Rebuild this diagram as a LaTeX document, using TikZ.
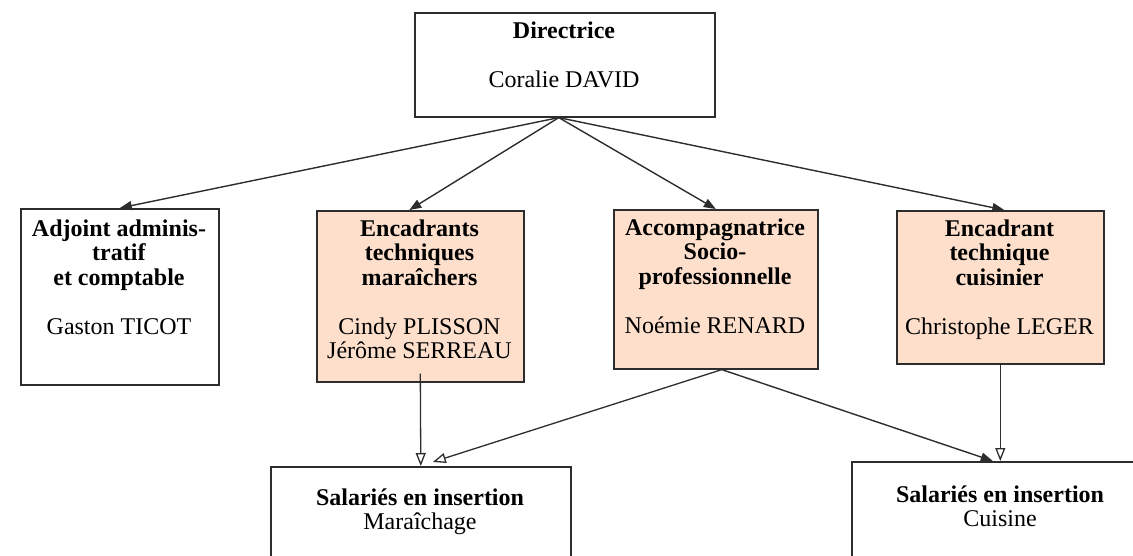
\documentclass[tikz,border=0pt]{standalone}
\usepackage{fontspec}
\setmainfont{Liberation Serif}
\usetikzlibrary{arrows.meta}
\definecolor{peach}{RGB}{253,223,203}
\definecolor{edgecol}{RGB}{45,45,45}
\begin{document}
\begin{tikzpicture}[x=1pt,y=-1pt,
  box/.style={draw=edgecol,line width=1.6pt,inner sep=0pt,anchor=north west},
  fbox/.style={box,fill=peach},
  lbl/.style={anchor=north,inner sep=0pt,yshift=17.15pt,align=center,font=\fontsize{24}{24.5}\selectfont},
  arr/.style={draw=edgecol,line width=1.4pt,-{Triangle[length=12pt,width=9pt]}},
  oarr/.style={draw=edgecol,line width=1.3pt,-{Triangle[open,length=13pt,width=10pt]}}]
\useasboundingbox (0,0) rectangle (1133,555);
\clip (0,0) rectangle (1133,555);
% boxes
\node[box,minimum width=300pt,minimum height=104pt] (dir) at (414,12) {};
\node[box,minimum width=198pt,minimum height=176pt] (adj) at (20,208) {};
\node[fbox,minimum width=207pt,minimum height=171pt] (enc) at (316,210) {};
\node[fbox,minimum width=204pt,minimum height=159pt] (acc) at (613,209) {};
\node[fbox,minimum width=207pt,minimum height=153pt] (cui) at (896,210) {};
\node[box,minimum width=300pt,minimum height=140pt] (mar) at (270,466) {};
\node[box,minimum width=300pt,minimum height=140pt] (cuis) at (851,461) {};
% labels (y = first baseline)
\node[lbl] (tdir) at (564,38) {\strut\textbf{Directrice}\\[25pt]Coralie DAVID};
\node[lbl] (tadj) at (119,236) {\strut\textbf{Adjoint adminis-}\\\textbf{tratif}\\\textbf{et comptable}\\[24.5pt]Gaston TICOT};
\node[lbl] (tenc) at (419.5,236) {\strut\textbf{Encadrants}\\\textbf{techniques}\\\textbf{maraîchers}\\[24.5pt]Cindy PLISSON\\Jérôme SERREAU};
\node[lbl] (tacc) at (715,235) {\strut\textbf{Accompagnatrice}\\\textbf{Socio-}\\\textbf{professionnelle}\\[24.5pt]Noémie RENARD};
\node[lbl] (tcui) at (999.5,236) {\strut\textbf{Encadrant}\\\textbf{technique}\\\textbf{cuisinier}\\[24.5pt]Christophe LEGER};
\node[lbl] (tmar) at (420,505) {\strut\textbf{Salariés en insertion}\\Maraîchage};
\node[lbl] (tcuis) at (1000,502) {\strut\textbf{Salariés en insertion}\\Cuisine};
% connectors
\draw[arr] ([xshift=-6pt]dir.south) -- (adj.north);
\draw[arr] ([xshift=-6pt]dir.south) -- ([xshift=-11pt]enc.north);
\draw[arr] ([xshift=-6pt]dir.south) -- (acc.north);
\draw[arr] ([xshift=-6pt]dir.south) -- ([xshift=4pt]cui.north);
\draw[oarr] ([yshift=9pt]enc.south) -- (mar.north);
\draw[oarr] ([xshift=6pt]acc.south) -- ([xshift=12pt,yshift=4pt]mar.north);
\draw[arr] ([xshift=6pt]acc.south) -- ([xshift=-9pt]cuis.north);
\draw[oarr] (cui.south) -- (cui.south |- cuis.north);
\end{tikzpicture}
\end{document}
